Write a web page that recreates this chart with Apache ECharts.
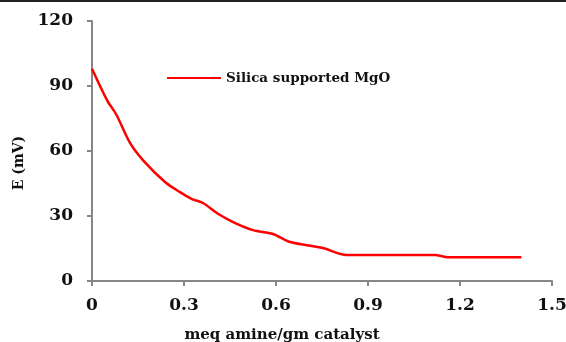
<!DOCTYPE html>
<html>
<head>
<meta charset="utf-8">
<script src="https://cdn.jsdelivr.net/npm/echarts@6/dist/echarts.min.js"></script>
<style>
  html, body { margin: 0; padding: 0; background: #fff; }
  #chart { width: 566px; height: 342px; }
</style>
</head>
<body>
<div id="chart"></div>
<script>
// amine added (meq/g) vs potential (mV)
const amine = [0, 0.049, 0.08, 0.124, 0.166, 0.238, 0.287, 0.326, 0.362, 0.407, 0.46, 0.525, 0.59, 0.646, 0.753, 0.83, 0.874, 1.118, 1.157, 1.4]
const potential = [98, 83.5, 76.6, 63.7, 55.8, 45.7, 41, 37.8, 36, 31.4, 27.2, 23.5, 21.7, 18, 15.2, 12, 12, 12, 11, 11]
const xTicks = [0, 0.3, 0.6, 0.9, 1.2, 1.5]
const yTicks = [0, 30, 60, 90, 120]

const serif = 'DejaVu Serif'
const chart = echarts.init(document.getElementById('chart'))

const grey = { color: '#868686', width: 2 }

chart.setOption({
  animation: false,
  grid: { left: 92, right: 14, top: 21, bottom: 61, outerBoundsMode: 'none', containLabel: false },
  legend: {
    data: ['Silica supported MgO'],
    left: 162,
    top: 66,
    itemWidth: 54,
    itemHeight: 10,
    itemGap: 6,
    icon: 'path://M0,4 L54,4 L54,6 L0,6 Z',
    textStyle: { fontFamily: serif, fontWeight: 'bold', fontSize: 13.5, color: '#111' }
  },
  graphic: [{
    type: 'rect',
    shape: { x: 0, y: 0, width: 566, height: 2 },
    style: { fill: '#222' }
  }],
  xAxis: {
    type: 'value',
    min: xTicks[0],
    max: xTicks[xTicks.length - 1],
    interval: 0.3,
    name: 'meq amine/gm catalyst',
    nameLocation: 'middle',
    nameGap: 47,
    nameTextStyle: { fontFamily: serif, fontWeight: 'bold', fontSize: 15, color: '#111', padding: [0, 80, 0, 0] },
    axisLine: { lineStyle: grey },
    axisTick: { show: true, length: 5, lineStyle: grey },
    splitLine: { show: false },
    axisLabel: {
      margin: 16,
      fontFamily: serif, fontWeight: 'bold', fontSize: 17, color: '#111',
      formatter: v => xTicks.find(t => Math.abs(t - v) < 1e-6) !== undefined ? String(+v.toFixed(1)) : ''
    }
  },
  yAxis: {
    type: 'value',
    min: yTicks[0],
    max: yTicks[yTicks.length - 1],
    interval: 30,
    name: 'E (mV)',
    nameLocation: 'middle',
    nameGap: 64,
    nameTextStyle: { fontFamily: serif, fontWeight: 'bold', fontSize: 14, color: '#111', padding: [0, 24, 0, 0] },
    axisLine: { show: true, lineStyle: grey },
    axisTick: { show: true, length: 5, lineStyle: grey },
    splitLine: { show: false },
    axisLabel: {
      margin: 19,
      fontFamily: serif, fontWeight: 'bold', fontSize: 17, color: '#111'
    }
  },
  series: [{
    name: 'Silica supported MgO',
    type: 'line',
    smooth: 0.3,
    showSymbol: false,
    lineStyle: { color: '#ff0000', width: 2.5 },
    itemStyle: { color: '#ff0000' },
    data: amine.map((x, i) => [x, potential[i]])
  }]
})
</script>
</body>
</html>
